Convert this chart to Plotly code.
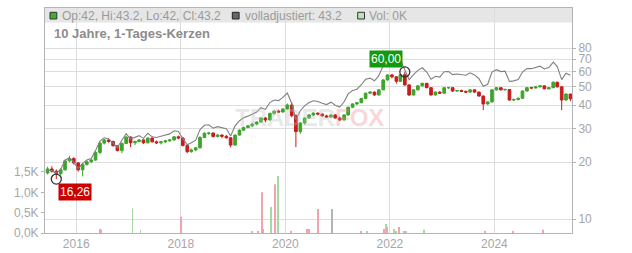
import numpy as np
import plotly.graph_objects as go

# ---------------- data ----------------
dates = [
    "2015-06-15", "2015-07-15", "2015-08-15", "2015-09-15", "2015-10-15", "2015-11-15", "2015-12-15",
    "2016-01-15", "2016-02-15", "2016-03-15", "2016-04-15", "2016-05-15", "2016-06-15",
    "2016-07-15", "2016-08-15", "2016-09-15", "2016-10-15", "2016-11-15", "2016-12-15",
    "2017-01-15", "2017-02-15", "2017-03-15", "2017-04-15", "2017-05-15", "2017-06-15",
    "2017-07-15", "2017-08-15", "2017-09-15", "2017-10-15", "2017-11-15", "2017-12-15",
    "2018-01-15", "2018-02-15", "2018-03-15", "2018-04-15", "2018-05-15", "2018-06-15",
    "2018-07-15", "2018-08-15", "2018-09-15", "2018-10-15", "2018-11-15", "2018-12-15",
    "2019-01-15", "2019-02-15", "2019-03-15", "2019-04-15", "2019-05-15", "2019-06-15",
    "2019-07-15", "2019-08-15", "2019-09-15", "2019-10-15", "2019-11-15", "2019-12-15",
    "2020-01-15", "2020-02-15", "2020-03-15", "2020-04-15", "2020-05-15", "2020-06-15",
    "2020-07-15", "2020-08-15", "2020-09-15", "2020-10-15", "2020-11-15", "2020-12-15",
    "2021-01-15", "2021-02-15", "2021-03-15", "2021-04-15", "2021-05-15", "2021-06-15",
    "2021-07-15", "2021-08-15", "2021-09-15", "2021-10-15", "2021-11-15", "2021-12-15",
    "2022-01-15", "2022-02-15", "2022-03-15", "2022-04-15", "2022-05-15", "2022-06-15",
    "2022-07-15", "2022-08-15", "2022-09-15", "2022-10-15", "2022-11-15", "2022-12-15",
    "2023-01-15", "2023-02-15", "2023-03-15", "2023-04-15", "2023-05-15", "2023-06-15",
    "2023-07-15", "2023-08-15", "2023-09-15", "2023-10-15", "2023-11-15", "2023-12-15",
    "2024-01-15", "2024-02-15", "2024-03-15", "2024-04-15", "2024-05-15", "2024-06-15",
    "2024-07-15", "2024-08-15", "2024-09-15", "2024-10-15", "2024-11-15", "2024-12-15",
    "2025-01-15", "2025-02-15", "2025-03-15", "2025-04-15", "2025-05-15", "2025-06-15",
]

opens = [
    17.5, 18.4, 17.9, 17.4, 18.2, 20.3, 20.9,
    19.8, 18.2, 19.4, 20.1, 20.5, 22.5, 25.2, 26.2, 25.7, 24.4, 23.0, 25.1,
    27.1, 25.3, 25.7, 26.2, 25.3, 26.8, 25.6, 25.3, 25.6, 25.9, 26.2, 27.2,
    26.8, 24.5, 22.7, 23.2, 23.8, 27.0, 28.4, 28.5, 27.3, 27.8, 27.4, 26.9,
    24.6, 27.8, 29.5, 30.5, 31.1, 31.8, 32.6, 34.2, 33.4, 36.2, 37.2, 36.8,
    38.2, 40.1, 35.2, 29.0, 32.2, 34.2, 35.5, 36.3, 35.9, 35.1, 34.6, 35.5,
    34.2, 33.4, 35.5, 39.0, 40.6, 41.2, 43.4, 46.3, 46.9, 45.3, 48.2, 54.4,
    57.8, 56.5, 53.5, 58.0, 51.2, 45.3, 48.2, 50.6, 52.2, 49.5, 45.3, 46.9,
    46.3, 49.5, 49.5, 47.5, 47.8, 47.3, 46.9, 48.2, 46.9, 44.7, 40.6, 41.6,
    48.2, 49.5, 48.2, 48.4, 42.6, 42.8, 43.5, 47.5, 49.5, 49.3, 50.0, 50.6,
    48.8, 49.5, 52.9, 50.0, 42.6, 45.8,
]
highs = [
    18.9, 19.0, 18.3, 18.6, 20.6, 21.6, 21.2,
    20.0, 19.8, 20.4, 20.8, 22.8, 25.6, 26.5, 26.6, 26.0, 24.6, 25.4, 27.5,
    27.4, 26.0, 26.5, 26.4, 27.0, 27.0, 26.0, 25.9, 26.2, 26.5, 27.4, 27.6,
    27.2, 24.8, 23.6, 24.0, 27.4, 28.8, 28.9, 28.7, 28.2, 28.0, 27.8, 27.1,
    28.0, 29.8, 30.8, 31.4, 32.3, 32.8, 34.5, 34.6, 36.5, 37.5, 37.8, 38.5,
    40.8, 41.3, 35.8, 32.6, 34.5, 36.0, 36.7, 36.6, 36.2, 35.6, 35.8, 35.9,
    34.8, 35.8, 39.3, 40.9, 41.6, 43.8, 46.6, 47.4, 47.2, 48.6, 54.8, 58.3,
    58.6, 57.0, 58.4, 60.0, 51.6, 48.6, 51.0, 52.6, 52.4, 49.8, 47.3, 47.4,
    49.8, 50.0, 49.8, 48.2, 48.3, 47.8, 48.6, 48.5, 47.2, 45.0, 42.0, 48.6,
    49.9, 49.8, 49.0, 48.7, 43.4, 43.9, 47.9, 49.9, 50.0, 50.4, 51.0, 50.9,
    49.9, 53.4, 53.2, 50.4, 46.3, 46.0,
]
lows = [
    17.2, 17.6, 16.26, 17.0, 18.0, 20.0, 19.4,
    17.8, 16.8, 19.2, 19.7, 20.3, 22.0, 24.8, 25.3, 24.2, 22.8, 22.3, 24.9,
    24.0, 24.6, 25.4, 24.9, 25.1, 25.4, 24.9, 24.8, 25.2, 25.6, 25.9, 26.4,
    24.2, 22.3, 22.4, 22.8, 23.6, 26.8, 27.8, 27.0, 27.0, 26.8, 26.6, 23.9,
    24.4, 27.6, 29.2, 30.2, 30.6, 31.3, 32.3, 32.5, 33.2, 35.6, 36.4, 36.5,
    37.9, 34.5, 24.0, 28.2, 31.6, 33.8, 35.0, 35.4, 34.8, 34.2, 34.3, 34.0,
    33.0, 33.2, 35.2, 38.6, 40.0, 41.0, 43.0, 45.8, 44.8, 45.0, 48.0, 53.8,
    55.4, 52.0, 53.0, 50.6, 44.8, 45.0, 47.8, 50.2, 49.2, 44.9, 45.0, 45.9,
    46.0, 48.8, 47.0, 47.0, 46.9, 46.4, 46.6, 46.5, 44.4, 37.7, 40.2, 41.4,
    47.8, 47.9, 47.8, 42.2, 42.0, 42.4, 43.2, 47.2, 48.9, 49.0, 49.6, 48.5,
    48.4, 49.2, 49.6, 37.7, 42.2, 42.0,
]
closes = [
    18.4, 17.9, 17.4, 18.2, 20.3, 20.9, 19.8,
    18.2, 19.4, 20.1, 20.5, 22.5, 25.2, 26.2, 25.7, 24.4, 23.0, 25.1, 27.1,
    25.3, 25.7, 26.2, 25.3, 26.8, 25.6, 25.3, 25.6, 25.9, 26.2, 27.2, 26.8,
    24.5, 22.7, 23.2, 23.8, 27.0, 28.4, 28.5, 27.3, 27.8, 27.4, 26.9, 24.6,
    27.8, 29.5, 30.5, 31.1, 31.8, 32.6, 34.2, 33.4, 36.2, 37.2, 36.8, 38.2,
    40.1, 35.2, 29.0, 32.2, 34.2, 35.5, 36.3, 35.9, 35.1, 34.6, 35.5, 34.2,
    33.4, 35.5, 39.0, 40.6, 41.2, 43.4, 46.3, 46.9, 45.3, 48.2, 54.4, 57.8,
    56.5, 53.5, 58.0, 51.2, 45.3, 48.2, 50.6, 52.2, 49.5, 45.3, 46.9, 46.3,
    49.5, 49.5, 47.5, 47.8, 47.3, 46.9, 48.2, 46.9, 44.7, 40.6, 41.6, 48.2,
    49.5, 48.2, 48.4, 42.6, 42.8, 43.5, 47.5, 49.5, 49.3, 50.0, 50.6, 48.8,
    49.5, 52.9, 50.0, 42.6, 45.8, 43.2,
]
adjusted = [
    18.4, 17.9, 17.5, 18.3, 20.5, 21.1, 20.0,
    18.5, 19.7, 20.5, 20.9, 23.0, 25.8, 26.9, 26.5, 25.2, 23.9, 26.1, 28.3,
    26.5, 27.0, 27.6, 26.7, 28.4, 27.2, 27.0, 27.4, 27.8, 28.2, 29.3, 29.0,
    26.6, 24.7, 25.3, 26.1, 29.7, 31.3, 31.5, 30.2, 30.8, 30.4, 30.0, 27.5,
    31.1, 33.1, 34.3, 35.0, 35.9, 36.8, 38.8, 38.0, 41.3, 42.6, 42.3, 44.0,
    46.4, 40.8, 33.6, 37.4, 39.7, 41.3, 42.2, 41.8, 40.9, 40.3, 41.5, 40.0,
    39.1, 41.7, 45.9, 47.8, 48.6, 51.3, 54.8, 55.6, 53.8, 57.3, 64.8, 69.0,
    67.5, 64.0, 69.5, 61.5, 54.5, 58.1, 61.1, 63.1, 59.9, 54.9, 56.9, 56.3,
    60.1, 60.3, 58.0, 58.5, 57.9, 57.6, 59.3, 57.8, 55.2, 50.3, 51.6, 59.9,
    61.6, 60.2, 60.5, 53.4, 53.8, 54.7, 59.9, 62.5, 62.4, 63.4, 64.3, 62.2,
    63.2, 67.6, 64.0, 54.6, 59.0, 57.5,
]

vol_dates = [
    "2016-06-13", "2016-06-20", "2017-01-28", "2017-03-25", "2018-01-02",
    "2019-05-14", "2019-06-25", "2019-07-23", "2019-07-30", "2019-09-24",
    "2019-10-21", "2019-11-11", "2020-02-10", "2020-06-01", "2020-06-15",
    "2020-08-17", "2020-11-23", "2021-06-13", "2021-07-25", "2021-11-20",
    "2021-12-04", "2021-12-11", "2022-01-30", "2022-02-13", "2022-03-06",
    "2022-04-10", "2022-04-24", "2022-08-27", "2023-10-27", "2024-05-10",
    "2024-12-05",
]
vol_values = [  # thousands
    0.10, 0.08, 0.60, 0.08, 0.40,
    0.03, 0.03, 1.00, 0.10, 0.64,
    1.20, 1.40, 0.03, 0.10, 0.10,
    0.59, 0.59, 0.05, 0.05, 0.10,
    0.22, 0.15, 0.10, 0.03, 0.15,
    0.03, 0.03, 0.08, 0.03, 0.03,
    0.08,
]
vol_dirs = [
    "d", "d", "u", "u", "d",
    "u", "d", "d", "d", "u",
    "d", "u", "d", "d", "d",
    "d", "n", "d", "u", "d",
    "u", "d", "u", "u", "d",
    "d", "u", "u", "d", "d",
    "d",
]

price_ticks = [10, 20, 30, 40, 50, 60, 70, 80]
vol_ticks = [0, 0.5, 1.0, 1.5]
vol_ticktext = ["0,0K", "0,5K", "1,0K", "1,5K"]
year_ticks = ["2016-01-01", "2018-01-01", "2020-01-01", "2022-01-01", "2024-01-01"]
year_labels = ["2016", "2018", "2020", "2022", "2024"]

title_text = "10 Jahre, 1-Tages-Kerzen"
legend_ohlc = "Op:42, Hi:43.2, Lo:42, Cl:43.2"
legend_adj = "volladjustiert: 43.2"
legend_vol = "Vol: 0K"

# ---------------- styling ----------------
W, H = 632, 253
ML, MR, MT, MB = 45, 60, 8, 20
PW, PH = W - ML - MR, H - MT - MB
FONT = "Liberation Sans, Arial, sans-serif"
GREEN = "#3ea42c"
RED = "#c81d1d"
GRID = "#dddddd"
AXIS = "#b4b4b4"
TICKF = "#a6a6a6"
VOLCOL = {"u": "#a4daa0", "d": "#f2a4ac", "n": "#b4b4b4"}


def px(x):
    return (x - ML) / PW


def py(y):
    return (H - MB - y) / PH


fig = go.Figure()

fig.add_trace(go.Scatter(
    x=dates, y=adjusted, mode="lines",
    line=dict(color="#808080", width=1.1),
    yaxis="y", showlegend=False, hoverinfo="skip"))

fig.add_trace(go.Candlestick(
    x=dates, open=opens, high=highs, low=lows, close=closes,
    increasing=dict(line=dict(color=GREEN, width=1), fillcolor=GREEN),
    decreasing=dict(line=dict(color=RED, width=1), fillcolor=RED),
    whiskerwidth=0, yaxis="y", showlegend=False, hoverinfo="skip"))

fig.add_trace(go.Bar(
    x=vol_dates, y=vol_values,
    marker=dict(color=[VOLCOL[d] for d in vol_dirs], line=dict(width=0)),
    width=[5 * 86400000] * len(vol_values),
    yaxis="y2", showlegend=False, hoverinfo="skip"))

imin = int(np.argmin(lows))
imax = int(np.argmax(highs))
fig.add_trace(go.Scatter(
    x=[dates[imin], dates[imax]], y=[lows[imin], highs[imax]], mode="markers",
    marker=dict(symbol="circle-open", size=10, color="#333333", line=dict(width=1.3)),
    yaxis="y", showlegend=False, hoverinfo="skip"))


def de(v):
    return f"{v:.2f}".replace(".", ",")


annotations = [
    dict(x=dates[imax], y=np.log10(highs[imax]), xref="x", yref="y",
         text=de(highs[imax]), showarrow=False, xanchor="right", yanchor="bottom",
         xshift=-2, yshift=4, bgcolor="#139a13", borderpad=1,
         font=dict(family=FONT, size=12, color="white")),
    dict(x=dates[imin], y=np.log10(lows[imin]), xref="x", yref="y",
         text=de(lows[imin]), showarrow=False, xanchor="left", yanchor="top",
         xshift=2, yshift=-4, bgcolor="#cc0000", borderpad=1,
         font=dict(family=FONT, size=12, color="white")),
    dict(x=px(60), y=py(15.6), xref="paper", yref="paper", text=legend_ohlc,
         showarrow=False, xanchor="left", yanchor="middle",
         font=dict(family=FONT, size=12, color="#9a9a9a")),
    dict(x=px(242.5), y=py(15.6), xref="paper", yref="paper", text=legend_adj,
         showarrow=False, xanchor="left", yanchor="middle",
         font=dict(family=FONT, size=12, color="#9a9a9a")),
    dict(x=px(367), y=py(15.6), xref="paper", yref="paper", text=legend_vol,
         showarrow=False, xanchor="left", yanchor="middle",
         font=dict(family=FONT, size=12, color="#9a9a9a")),
    dict(x=px(51.5), y=py(33.3), xref="paper", yref="paper", text="<b>" + title_text + "</b>",
         showarrow=False, xanchor="left", yanchor="middle",
         font=dict(family=FONT, size=13, color="#8c8c8c")),
    dict(x=px(309), y=py(117), xref="paper", yref="paper",
         text="<b><span style='color:rgba(190,190,190,0.35)'>TRADER</span>"
              "<span style='color:rgba(240,140,140,0.35)'>FOX</span></b>",
         showarrow=False, xanchor="center", yanchor="middle",
         font=dict(family=FONT, size=24)),
]

shapes = [
    dict(type="rect", xref="paper", yref="paper", x0=0, x1=1, y0=py(22.5), y1=1,
         fillcolor="#e6e6e6", line=dict(width=0), layer="below"),
    dict(type="rect", xref="paper", yref="paper", x0=px(50), x1=px(56.8), y0=py(19), y1=py(12.3),
         fillcolor="#44aa33", line=dict(color="#333333", width=1), layer="above"),
    dict(type="rect", xref="paper", yref="paper", x0=px(232.3), x1=px(239.1), y0=py(19), y1=py(12.3),
         fillcolor="#666666", line=dict(color="#222222", width=1), layer="above"),
    dict(type="rect", xref="paper", yref="paper", x0=px(357.7), x1=px(364.5), y0=py(19), y1=py(12.3),
         fillcolor="#b8e6b8", line=dict(color="#333333", width=1), layer="above"),
]

fig.update_layout(
    width=W, height=H,
    margin=dict(l=ML, r=MR, t=MT, b=MB, pad=0, autoexpand=False),
    paper_bgcolor="white", plot_bgcolor="white",
    font=dict(family=FONT, size=12, color=TICKF),
    showlegend=False, boxgap=0.05,
    annotations=annotations, shapes=shapes,
    xaxis=dict(
        type="date", range=["2015-05-28", "2025-06-26"],
        tickvals=year_ticks, ticktext=year_labels, automargin=False,
        showgrid=True, gridcolor=GRID, gridwidth=1,
        showline=True, linecolor=AXIS, linewidth=1, mirror=True,
        ticks="", zeroline=False, rangeslider=dict(visible=False),
        tickfont=dict(family=FONT, size=12, color=TICKF),
    ),
    yaxis=dict(
        type="log", range=[0.926, 2.116], side="right", automargin=False,
        tickvals=price_ticks, ticktext=[str(t) for t in price_ticks],
        showgrid=True, gridcolor=GRID, gridwidth=1,
        showline=True, linecolor=AXIS, linewidth=1, mirror=True,
        ticks="outside", ticklen=3, tickcolor=AXIS, zeroline=False,
        tickfont=dict(family=FONT, size=12, color=TICKF),
    ),
    yaxis2=dict(
        overlaying="y", side="left", range=[0, 5.53], automargin=False,
        tickvals=vol_ticks, ticktext=vol_ticktext,
        showgrid=False, zeroline=False, showline=False,
        ticks="outside", ticklen=3, tickcolor=AXIS,
        tickfont=dict(family=FONT, size=12, color=TICKF),
    ),
)

fig.write_html("out.html")
